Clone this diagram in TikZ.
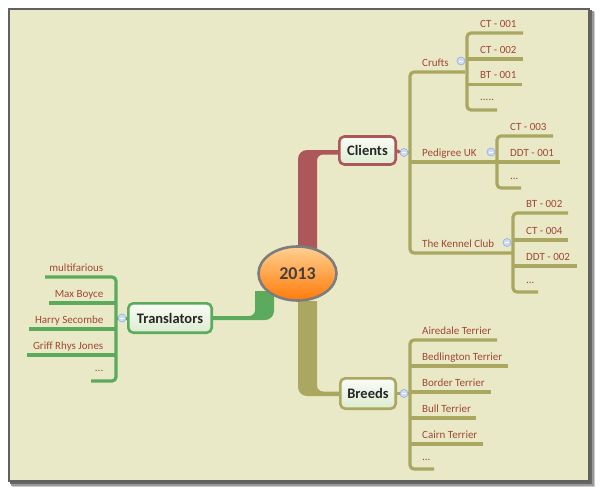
\documentclass[tikz,border=0pt]{standalone}
\usepackage{fontspec}
\setmainfont{Carlito}
\usetikzlibrary{shapes.geometric}
\definecolor{bg}{RGB}{233,233,200}
\definecolor{olivec}{RGB}{170,168,96}
\definecolor{greenc}{RGB}{92,170,92}
\definecolor{redc}{RGB}{172,88,90}
\definecolor{txt}{RGB}{160,72,52}
\definecolor{boxtop}{RGB}{250,252,246}
\definecolor{boxbot}{RGB}{220,236,208}
\definecolor{orangetop}{RGB}{255,208,145}
\definecolor{orangebot}{RGB}{255,122,8}
\definecolor{rimc}{RGB}{125,125,125}
\definecolor{dotfill}{RGB}{205,218,245}
\definecolor{dotdraw}{RGB}{150,172,225}
\begin{document}
\begin{tikzpicture}[x=1pt,y=-1pt,
  leaf/.style={font=\fontsize{11}{13}\selectfont, text=txt, inner sep=0pt, anchor=base west},
  leafr/.style={leaf, anchor=base east},
  topic/.style={draw=#1, line width=2.6pt, rounded corners=5pt, top color=boxtop, bottom color=boxbot,
    font=\fontsize{14.5}{16}\bfseries\selectfont, text=black!85, inner sep=0pt},
  branch/.style={draw=#1, line width=3.2pt, rounded corners=4pt},
  toggle/.style={circle, draw=dotdraw, fill=dotfill, line width=0.6pt, minimum size=8pt, inner sep=0pt,
    path picture={\draw[white, line width=0.8pt] ([xshift=-2.2pt]path picture bounding box.center) -- ([xshift=2.2pt]path picture bounding box.center);}},
]
\useasboundingbox (0,0) rectangle (600,491);
\fill[white] (0,0) rectangle (600,491);
% frame with shadow
\fill[black!20] (12,12) rectangle (595,487);
\fill[black!40] (11,11) rectangle (593.5,485.5);
\fill[black!60] (10,10) rectangle (592,484);
\fill[bg] (8,8) rectangle (590,482);
\draw[black!62, line width=1.8pt] (8.9,8.9) rectangle (589.1,481.1);

% thick main connectors
\fill[redc] (298,255) -- (298,159) arc[start angle=180,end angle=270,radius=9] -- (345,150) -- (345,154.5)
  -- (323,154.5) arc[start angle=270,end angle=180,radius=6] -- (317,255) -- cycle;
\fill[olivec] (298,301) -- (298,387) arc[start angle=180,end angle=90,radius=9] -- (345,396) -- (345,391.5)
  -- (323,391.5) arc[start angle=90,end angle=180,radius=6] -- (317,385.5) -- (317,301) -- cycle;
\fill[greenc] (274,285) -- (274,311) arc[start angle=0,end angle=90,radius=9] -- (205,320) -- (205,316)
  -- (249,316) arc[start angle=90,end angle=0,radius=6] -- (255,310) -- (255,291) -- (274,291) -- cycle;

% central topic
\node[ellipse, draw=rimc, line width=2.6pt, top color=orangetop, bottom color=orangebot,
  minimum width=78pt, minimum height=54pt, inner sep=0pt,
  font=\fontsize{18}{20}\bfseries\selectfont, text=black!75] (root) at (297.5,273.5) {2013};

% main topics
\node[topic=redc, minimum width=56.4pt, minimum height=28pt] (clients) at (367.5,150.5) {Clients};
\node[topic=olivec, minimum width=55.4pt, minimum height=30.4pt] (breeds) at (368,393.5) {Breeds};
\node[topic=greenc, minimum width=83.4pt, minimum height=29.4pt] (trans) at (170,318) {Translators};

% toggles
\node[toggle] (tcl) at (404,152.5) {};
\node[toggle] (tbr) at (404,393.5) {};
\node[toggle] (ttr) at (122,318) {};
\draw[redc, line width=3pt] (clients.east) -- (tcl.west);
\draw[olivec, line width=3pt] (tcl.east) -- (410,152.5);
\draw[olivec, line width=3pt] (breeds.east) -- (tbr.west);
\draw[olivec, line width=3pt] (tbr.east) -- (410,393.5);
\draw[greenc, line width=3pt] (trans.west) -- (ttr.east);
\draw[greenc, line width=3pt] (ttr.west) -- (116,318);

% Clients branches
\draw[branch=olivec] (465,72) -- (410,72) -- (410,253) -- (513,253);
\draw[branch=olivec] (410,162) -- (497,162);
\node[leaf] (crufts) at (422,66) {Crufts};
\node[leaf] (pedigree) at (422,156) {Pedigree UK};
\node[leaf] (kennel) at (422,247) {The Kennel Club};
\node[toggle] (tcr) at (461,61) {};
\node[toggle] (tpe) at (491,152) {};
\node[toggle] (tke) at (507,242.5) {};

% Crufts children
\draw[branch=olivec] (523,33) -- (467,33) -- (467,110) -- (497,110);
\draw[branch=olivec] (467,59) -- (523,59);
\draw[branch=olivec] (467,84.5) -- (522,84.5);
\node[leaf] (c1) at (480,27) {CT - 001};
\node[leaf] (c2) at (480,53) {CT - 002};
\node[leaf] (c3) at (480,78.5) {BT - 001};
\node[leaf] (c4) at (480,100.5) {.....};

% Pedigree children
\draw[branch=olivec] (553,136) -- (497,136) -- (497,188) -- (521,188);
\draw[branch=olivec] (497,162) -- (560,162);
\node[leaf] (p1) at (510,130) {CT - 003};
\node[leaf] (p2) at (510,156) {DDT - 001};
\node[leaf] (p3) at (510,179.5) {...};

% Kennel club children
\draw[branch=olivec] (568,213) -- (513,213) -- (513,292) -- (538,292);
\draw[branch=olivec] (513,240) -- (568,240);
\draw[branch=olivec] (513,266) -- (577,266);
\node[leaf] (k1) at (526,207) {BT - 002};
\node[leaf] (k2) at (526,234) {CT - 004};
\node[leaf] (k3) at (526,260) {DDT - 002};
\node[leaf] (k4) at (526,283) {...};

% Breeds branches
\draw[branch=olivec] (497,340) -- (410,340) -- (410,469) -- (434,469);
\draw[branch=olivec] (410,366) -- (508,366);
\draw[branch=olivec] (410,392) -- (491,392);
\draw[branch=olivec] (410,418) -- (476,418);
\draw[branch=olivec] (410,444) -- (483,444);
\node[leaf] (b1) at (422,334) {Airedale Terrier};
\node[leaf] (b2) at (422,360) {Bedlington Terrier};
\node[leaf] (b3) at (422,386) {Border Terrier};
\node[leaf] (b4) at (422,412) {Bull Terrier};
\node[leaf] (b5) at (422,438) {Cairn Terrier};
\node[leaf] (b6) at (422,460) {...};

% Translators branches
\draw[branch=greenc] (45,277) -- (116,277) -- (116,381) -- (91,381);
\draw[branch=greenc] (49,303) -- (116,303);
\draw[branch=greenc] (29,329) -- (116,329);
\draw[branch=greenc] (27,355) -- (116,355);
\node[leafr] (t1) at (103.5,271.5) {multifarious};
\node[leafr] (t2) at (103.5,297) {Max Boyce};
\node[leafr] (t3) at (103.5,323) {Harry Secombe};
\node[leafr] (t4) at (103.5,349) {Griff Rhys Jones};
\node[leafr] (t5) at (103.5,371) {...};
\end{tikzpicture}
\end{document}
